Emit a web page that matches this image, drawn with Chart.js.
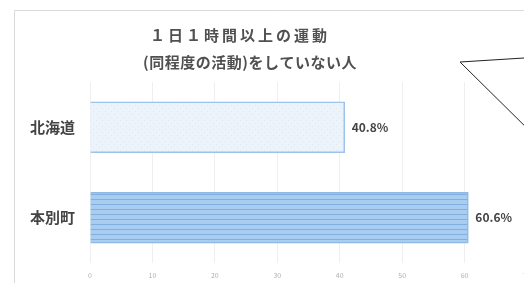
<!DOCTYPE html>
<html>
<head>
<meta charset="utf-8">
<script src="https://cdn.jsdelivr.net/npm/chart.js@4"></script>
<style>
html, body { margin: 0; padding: 0; background: #fff; overflow: hidden; }
#wrap { width: 540px; height: 283px; position: relative; }
canvas { display: block; }
</style>
</head>
<body>
<div id="wrap"><canvas id="chart1" width="540" height="283"></canvas></div>
<script>
// data
var categories = ['北海道', '本別町'];
var values = [40.8, 60.6];
var titleLines = ['１日１時間以上の運動', '(同程度の活動)をしていない人'];
var xMax = 70;
var xStep = 10;

var font = '"Noto Sans CJK JP", "Noto Sans", sans-serif';

// fill patterns for the two bars
function dotPattern() {
    var c = document.createElement('canvas');
    c.width = 6; c.height = 6;
    var g = c.getContext('2d');
    g.fillStyle = '#ecf3fb';
    g.fillRect(0, 0, 6, 6);
    g.fillStyle = '#dde8f5';
    g.fillRect(0, 0, 1, 1);
    g.fillRect(3, 3, 1, 1);
    return g.createPattern(c, 'repeat');
}
function stripePattern() {
    var c = document.createElement('canvas');
    c.width = 4; c.height = 5;
    var g = c.getContext('2d');
    g.fillStyle = '#a8cdf0';
    g.fillRect(0, 0, 4, 5);
    g.fillStyle = '#7fb0e0';
    g.fillRect(0, 4, 4, 1);
    return g.createPattern(c, 'repeat');
}

var decor = {
    id: 'decor',
    beforeDraw: function(chart) {
        var ctx = chart.ctx;
        ctx.save();
        ctx.strokeStyle = '#d9d9d9';
        ctx.lineWidth = 1;
        ctx.beginPath();
        ctx.moveTo(14.5, 283);
        ctx.lineTo(14.5, 10.5);
        ctx.lineTo(540, 10.5);
        ctx.stroke();
        ctx.restore();
    },
    afterDraw: function(chart) {
        var ctx = chart.ctx;
        ctx.save();
        // title
        ctx.fillStyle = '#505050';
        ctx.textAlign = 'center';
        ctx.textBaseline = 'middle';
        ctx.font = 'bold 15px ' + font;
        ctx.letterSpacing = '3px';
        ctx.fillText(titleLines[0], 240, 35);
        ctx.letterSpacing = '0.5px';
        ctx.fillText(titleLines[1], 250, 62);
        ctx.letterSpacing = '0px';

        // value labels
        ctx.font = 'bold 12px ' + font;
        ctx.textAlign = 'left';
        ctx.fillStyle = '#444';
        var meta = chart.getDatasetMeta(0);
        meta.data.forEach(function(bar, i) {
            ctx.fillText(values[i].toFixed(1) + '%', bar.x + 7, bar.y);
        });

        // callout lines
        ctx.strokeStyle = '#222';
        ctx.lineWidth = 1;
        ctx.beginPath();
        ctx.moveTo(540, 57);
        ctx.lineTo(460, 62);
        ctx.lineTo(540, 141);
        ctx.stroke();
        ctx.restore();
    }
};

var ctx1 = document.getElementById('chart1').getContext('2d');
var chart1 = new Chart(ctx1, {
    type: 'bar',
    data: {
        labels: categories,
        datasets: [{
            data: values,
            backgroundColor: [dotPattern(), stripePattern()],
            borderColor: ['#9ec3e8', '#8fb8e2'],
            borderWidth: 1.5,
            barThickness: 51
        }]
    },
    options: {
        indexAxis: 'y',
        responsive: false,
        maintainAspectRatio: false,
        animation: false,
        devicePixelRatio: 1,
        layout: { padding: { top: 82, right: 13, bottom: 0, left: 0 } },
        plugins: {
            legend: { display: false },
            tooltip: { enabled: false }
        },
        scales: {
            x: {
                min: 0,
                max: xMax,
                afterFit: function(scale) { scale.height = 20; },
                ticks: {
                    stepSize: xStep,
                    padding: 8,
                    color: '#b0b0b0',
                    font: { size: 7, family: font }
                },
                grid: { color: '#efefef', drawTicks: false },
                border: { display: false }
            },
            y: {
                afterFit: function(scale) {
                    scale.width = 90;
                    scale.paddingTop = 0;
                    scale.paddingBottom = 0;
                },
                ticks: {
                    padding: 15,
                    color: '#444',
                    font: { size: 15, weight: 'bold', family: font }
                },
                grid: { display: false, drawTicks: false },
                border: { display: false }
            }
        }
    },
    plugins: [decor]
});
</script>
</body>
</html>
